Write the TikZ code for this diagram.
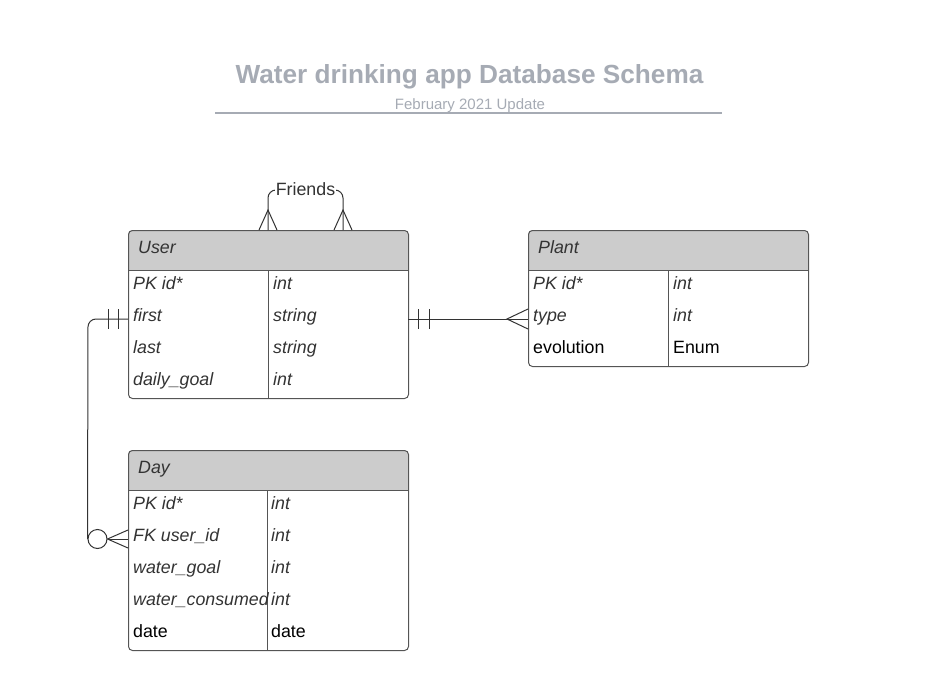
\documentclass[tikz,border=0pt]{standalone}
\usepackage{fontspec}
\setmainfont{Liberation Sans}
\usetikzlibrary{calc}
\definecolor{titlegray}{HTML}{A6ABB4}
\definecolor{hdrfill}{HTML}{CCCCCC}
\definecolor{boxline}{HTML}{555555}
\definecolor{txt}{HTML}{333333}
\tikzset{
  cell/.style={anchor=mid west, inner sep=0pt, font=\fontsize{17.8}{20}\selectfont\itshape, text=txt},
  cellup/.style={anchor=mid west, inner sep=0pt, font=\fontsize{17.8}{20}\selectfont, text=black},
  tbl/.style={draw=boxline, line width=1pt, rounded corners=4pt, inner sep=0pt, anchor=north west},
  hdr/.style={fill=hdrfill},
  sep/.style={draw=boxline, line width=1pt},
  conn/.style={draw=txt, line width=1pt},
}
\begin{document}
\begin{tikzpicture}[x=1pt,y=-1pt]
\useasboundingbox (0,0) rectangle (934,690);
% title
\node[font=\fontsize{26.2}{30}\selectfont\bfseries, text=titlegray] (title) at (469.5,76.5) {Water drinking app Database Schema};
\node[font=\fontsize{15}{18}\selectfont, text=titlegray] (subtitle) at (470,105.5) {February 2021 Update};
\draw[titlegray, line width=2pt] (215,113) -- (722,113);

% ---------- User table ----------
\fill[hdr] (128,270) [rounded corners=4pt] -- (128,230) -- (408,230) [sharp corners] -- (408,270) -- cycle;
\node[tbl, minimum width=280pt, minimum height=168pt] (user) at (128,230) {};
\draw[sep] (128,270) -- (408,270);
\draw[sep] (268,270) -- (268,398);
\node[cell] (userh) at (138,251) {User};
\node[cell] (u1a) at (133,287) {PK id*};
\node[cell] (u1b) at (273,287) {int};
\node[cell] (u2a) at (133,319) {first};
\node[cell] (u2b) at (273,319) {string};
\node[cell] (u3a) at (133,351) {last};
\node[cell] (u3b) at (273,351) {string};
\node[cell] (u4a) at (133,383) {daily\_goal};
\node[cell] (u4b) at (273,383) {int};

% ---------- Plant table ----------
\fill[hdr] (528,270) [rounded corners=4pt] -- (528,230) -- (808,230) [sharp corners] -- (808,270) -- cycle;
\node[tbl, minimum width=280pt, minimum height=136pt] (plant) at (528,230) {};
\draw[sep] (528,270) -- (808,270);
\draw[sep] (668,270) -- (668,366);
\node[cell] (planth) at (538,251) {Plant};
\node[cell] (p1a) at (533,287) {PK id*};
\node[cell] (p1b) at (673,287) {int};
\node[cell] (p2a) at (533,319) {type};
\node[cell] (p2b) at (673,319) {int};
\node[cellup] (p3a) at (533,351) {evolution};
\node[cellup] (p3b) at (673,351) {Enum};

% ---------- Day table ----------
\fill[hdr] (128,490) [rounded corners=4pt] -- (128,450) -- (408,450) [sharp corners] -- (408,490) -- cycle;
\node[tbl, minimum width=280pt, minimum height=200pt] (day) at (128,450) {};
\draw[sep] (128,490) -- (408,490);
\draw[sep] (267,490) -- (267,650);
\node[cell] (dayh) at (138,471) {Day};
\node[cell] (d1a) at (133,507) {PK id*};
\node[cell] (d1b) at (271,507) {int};
\node[cell] (d2a) at (133,539) {FK user\_id};
\node[cell] (d2b) at (271,539) {int};
\node[cell] (d3a) at (133,571) {water\_goal};
\node[cell] (d3b) at (271,571) {int};
\node[cell] (d4a) at (133,603) {water\_consumed};
\node[cell] (d4b) at (271,603) {int};
\node[cellup] (d5a) at (133,635) {date};
\node[cellup] (d5b) at (271,635) {date};

% ---------- connector anchors ----------
\coordinate (fa) at (268,230);
\coordinate (fb) at (343,230);
\coordinate (ur) at (408,319);
\coordinate (pl) at (528,319);
\coordinate (ul) at (128,319);
\coordinate (dl) at (128,539);
\coordinate (bend) at (88,319);

% Friends (self relation)
\draw[conn, rounded corners=8pt] (fa) -- (268,190) -- (343,190) -- (fb);
\node[fill=white, inner sep=1pt, font=\fontsize{17.8}{20}\selectfont, text=txt] (friends) at (305.5,189) {Friends};
\draw[conn] ($(fa)+(-9,0)$) -- ($(fa)+(0,-20)$) -- ($(fa)+(9,0)$);
\draw[conn] ($(fb)+(-9,0)$) -- ($(fb)+(0,-20)$) -- ($(fb)+(9,0)$);

% User -- Plant
\draw[conn] (ur) -- (pl);
\draw[conn] (418,309) -- (418,329);
\draw[conn] (429,309) -- (429,329);
\draw[conn] ($(pl)+(0,-10)$) -- ($(pl)+(-21,0)$) -- ($(pl)+(0,10)$);

% User -- Day
\node[circle, draw=txt, fill=white, line width=1pt, minimum size=19pt, inner sep=0pt] (circ) at (97.5,539) {};
\draw[conn, rounded corners=8pt] (ul) -- (bend) -- (circ.west);
\draw[conn] (108,309) -- (108,329);
\draw[conn] (118,309) -- (118,329);
\draw[conn] ($(dl)+(0,-9)$) -- (circ.east) -- ($(dl)+(0,9)$);
\draw[conn] (circ.east) -- (dl);
\end{tikzpicture}
\end{document}
